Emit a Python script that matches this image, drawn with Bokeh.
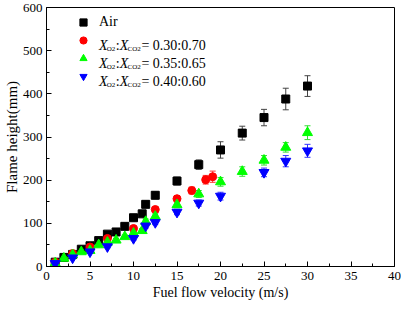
from bokeh.plotting import figure
from bokeh.models import (ColumnDataSource, Whisker, TeeHead, Legend, LegendItem,
                          Label, FixedTicker)
from bokeh.embed import file_html
from bokeh.resources import INLINE

# ---------------- data ----------------
air_v = [1, 2, 3, 4, 5, 6, 7, 8, 9, 10, 11, 11.4, 12.5, 15, 17.5, 20, 22.5, 25, 27.5, 30]
air_h = [10, 21, 28, 40, 48, 60, 75, 80, 93, 113, 122, 144, 165, 198, 236, 270, 309, 345, 388, 418]
air_e = [2, 2, 3, 3, 3, 4, 5, 5, 6, 6, 6, 7, 8, 9, 11, 19, 16, 19, 25, 24]

r30_v = [1, 3, 5, 7, 10, 12.5, 15, 16.7, 18.3, 19.1]
r30_h = [10, 30, 45, 65, 88, 132, 157, 176, 201, 208]
r30_e = [2, 2, 3, 4, 5, 6, 7, 8, 10, 13]

r35_v = [1, 2, 3, 4, 5, 6, 7, 8, 9, 10, 11, 11.4, 12.5, 15, 17.5, 20, 22.5, 25, 27.5, 30]
r35_h = [8, 19, 27, 34, 37, 50, 56, 61, 69, 77, 83, 104, 116, 143, 168, 196, 220, 246, 276, 310]
r35_e = [2, 2, 2, 3, 3, 3, 3, 4, 4, 5, 5, 6, 6, 7, 8, 10, 11, 11, 11, 16]

r40_v = [1, 3, 5, 7, 10, 11.4, 12.5, 15, 17.5, 20, 25, 27.5, 30]
r40_h = [7, 20, 34, 46, 65, 94, 102, 126, 147, 163, 218, 244, 268]
r40_e = [2, 2, 3, 3, 4, 5, 5, 6, 7, 9, 10, 13, 15]

x_ticks = [0, 5, 10, 15, 20, 25, 30, 35, 40]
x_minor = [2.5, 7.5, 12.5, 17.5, 22.5, 27.5, 32.5, 37.5]
y_ticks = [0, 100, 200, 300, 400, 500, 600]
y_minor = [50, 150, 250, 350, 450, 550]

legend_ratios = ["0.30:0.70", "0.35:0.65", "0.40:0.60"]

FONT = "Liberation Serif"

# ---------------- figure ----------------
FL, FR, FT, FB = 42, 7, 7, 43
W, H = 401, 309
FW, FH = W - FL - FR, H - FT - FB
XMAX, YMAX = 40, 600

p = figure(width=W, height=H, x_range=(0, XMAX), y_range=(0, YMAX),
           output_backend="svg", toolbar_location=None,
           min_border_left=FL, min_border_right=FR, min_border_top=FT, min_border_bottom=FB)
p.background_fill_color = "white"
p.border_fill_color = "white"
p.outline_line_color = "black"
p.outline_line_width = 1
p.xgrid.grid_line_color = None
p.ygrid.grid_line_color = None

p.xaxis.ticker = FixedTicker(ticks=x_ticks, minor_ticks=x_minor)
p.yaxis.ticker = FixedTicker(ticks=y_ticks, minor_ticks=y_minor)
for ax in (p.xaxis[0], p.yaxis[0]):
    ax.axis_line_color = "black"
    ax.major_tick_line_color = "black"
    ax.minor_tick_line_color = "black"
    ax.major_tick_in = 5
    ax.major_tick_out = 0
    ax.minor_tick_in = 3
    ax.minor_tick_out = 0
    ax.major_label_text_font = FONT
    ax.major_label_text_font_size = "13px"
    ax.major_label_text_color = "black"
    ax.axis_label_text_font = FONT
    ax.axis_label_text_font_style = "normal"
    ax.axis_label_text_color = "black"

p.xaxis.axis_label = "Fuel flow velocity (m/s)"
p.xaxis.axis_label_text_font_size = "14px"
p.xaxis.major_label_standoff = 5
p.xaxis.axis_label_standoff = 2
p.yaxis.axis_label = "Flame height(mm)"
p.yaxis.axis_label_text_font_size = "15px"
p.yaxis.major_label_standoff = 4
p.yaxis.axis_label_standoff = 0


def series(v, h, e, marker, size, color, ecolor):
    src = ColumnDataSource(dict(x=v, y=h,
                                upper=[a + b for a, b in zip(h, e)],
                                lower=[a - b for a, b in zip(h, e)]))
    w = Whisker(source=src, base="x", upper="upper", lower="lower",
                line_color=ecolor, line_width=1,
                upper_head=TeeHead(size=6, line_color=ecolor, line_width=1),
                lower_head=TeeHead(size=6, line_color=ecolor, line_width=1))
    p.add_layout(w)
    r = p.scatter("x", "y", source=src, marker=marker, size=size,
                  fill_color=color, line_color=color)
    return r


r_air = series(air_v, air_h, air_e, "square", 8, "#000000", "#444444")
r_30 = series(r30_v, r30_h, r30_e, "circle", 8, "#ff0000", "#ff3333")
r_35 = series(r35_v, r35_h, r35_e, "triangle", 10, "#00ff00", "#33dd33")
r_40 = series(r40_v, r40_h, r40_e, "inverted_triangle", 10, "#0000ff", "#3333ff")

# ---------------- legend ----------------
legend = Legend(items=[LegendItem(label="Air", renderers=[r_air]),
                       LegendItem(label=" ", renderers=[r_30]),
                       LegendItem(label=" ", renderers=[r_35]),
                       LegendItem(label=" ", renderers=[r_40])],
                location=(28, 181), orientation="vertical",
                glyph_width=18, glyph_height=18, label_height=18, spacing=0,
                padding=0, margin=0, label_standoff=7,
                label_text_font=FONT, label_text_font_size="14px",
                label_text_color="black", label_text_baseline="middle",
                border_line_alpha=0, background_fill_alpha=0)
p.add_layout(legend)


def px2x(px):
    return (px - FL) / FW * XMAX


def px2y(py):
    return (FT + FH - py) / FH * YMAX


def txt(px, py, s, size, italic=False):
    p.add_layout(Label(x=px2x(px), y=px2y(py), text=s, text_font=FONT,
                       text_font_size=size, text_color="black",
                       text_font_style="italic" if italic else "normal",
                       text_align="left", text_baseline="alphabetic"))


s0 = 95
row_y = [40, 58, 76]
for ry, ratio in zip(row_y, legend_ratios):
    base = ry + 5
    txt(s0, base, "X", "14px", italic=True)
    txt(s0 + 8, base + 3, "O2", "7px")
    txt(s0 + 17, base, ":", "14px")
    txt(s0 + 21, base, "X", "14px", italic=True)
    txt(s0 + 29, base + 3, "CO2", "7px")
    txt(s0 + 43, base, "= " + ratio, "14px")

open("out.html", "w").write(file_html(p, INLINE))
